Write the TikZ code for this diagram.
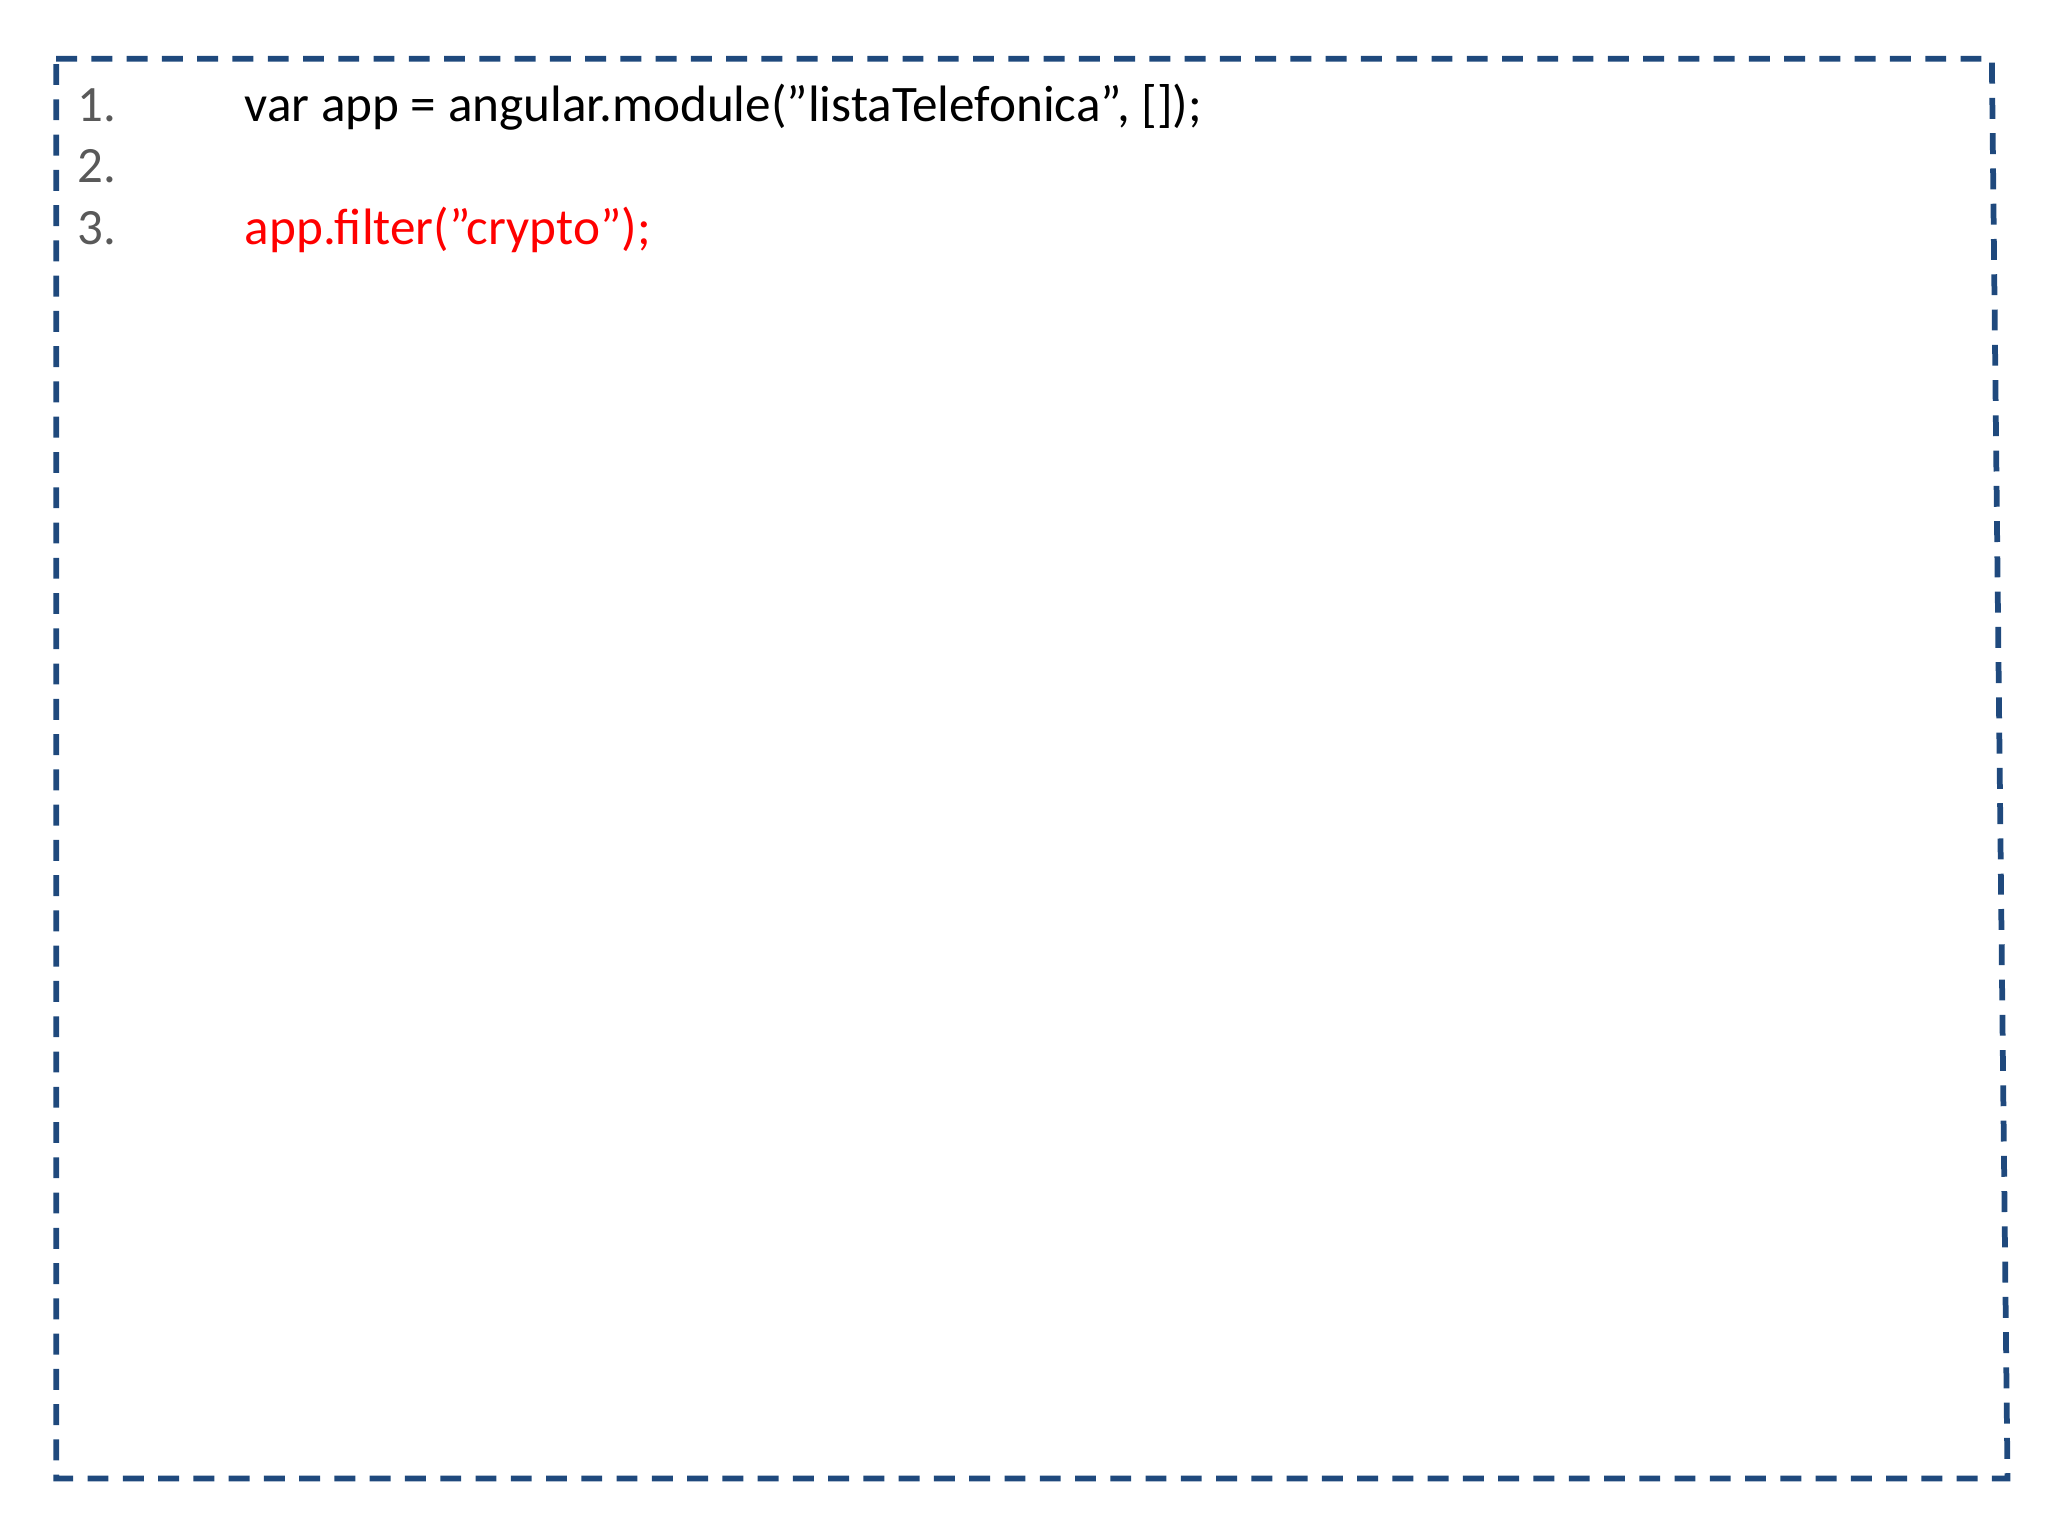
\documentclass[tikz,border=0pt]{standalone}
\usepackage{fontspec}
\setmainfont{Carlito}
\definecolor{boxblue}{HTML}{1F497D}
\definecolor{numgray}{HTML}{595959}
\definecolor{codered}{HTML}{FF0000}
\newcommand{\sq}{\symbol{34}}
\begin{document}
\begin{tikzpicture}[x=0.5pt,y=-0.5pt,
  num/.style={anchor=base west,inner sep=0,text=numgray,font=\fontsize{19.5}{23}\selectfont},
  code/.style={anchor=base west,inner sep=0,font=\fontsize{19.6}{23}\selectfont}]
\useasboundingbox (0,0) rectangle (1568,1176);
\draw[boxblue,line width=2.2pt,dash pattern=on 8pt off 5.5pt] (43,45) -- (1525,45) -- (1537,1132) -- (43,1132) -- cycle;
\node[num] (n1) at (59,93) {1.};
\node[num] (n2) at (59,140) {2.};
\node[num] (n3) at (59,187) {3.};
\node[code] (c1) at (187,93) {var app = angular.module(\sq listaTelefonica\sq, []);};
\node[code,text=codered] (c3) at (187,187) {app.filter(\sq crypto\sq);};
\end{tikzpicture}
\end{document}
